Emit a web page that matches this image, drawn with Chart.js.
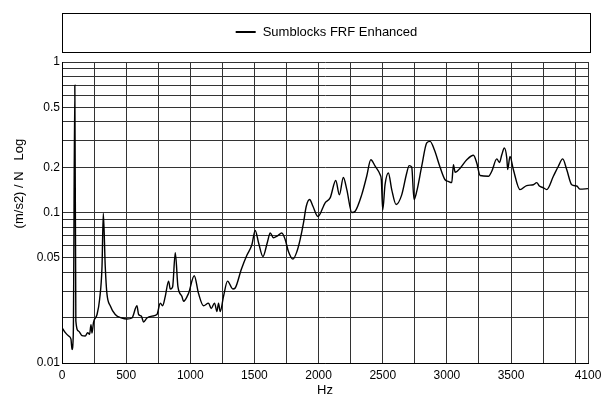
<!DOCTYPE html>
<html><head><meta charset="utf-8">
<script src="https://cdn.jsdelivr.net/npm/chart.js@4.4.1/dist/chart.umd.min.js"></script>
<style>html,body{margin:0;padding:0;background:#fff}#wrap{width:607px;height:401px}</style>
</head><body><div id="wrap"><canvas id="c" width="607" height="401"></canvas></div>
<script>
const seriesName = 'Sumblocks FRF Enhanced';
const xAxisTitle = 'Hz';
const yAxisTitle = '                (m/s2) / N   Log';

const freqHz = [0,26,52,70,78,88,100,108,129,156,181,200,215,226,234,246,273,293,312,322,337,350,376,415,467,506,545,584,597,618,636,662,701,740,766,784,805,831,844,862,883,904,935,947,986,1031,1064,1103,1142,1163,1189,1208,1220,1233,1259,1290,1332,1350,1398,1441,1480,1506,1532,1566,1602,1623,1648,1680,1713,1740,1765,1800,1831,1856,1882,1904,1930,1956,1995,2051,2090,2134,2162,2193,2220,2259,2285,2336,2375,2407,2441,2480,2489,2500,2518,2544,2570,2604,2648,2687,2706,2726,2744,2765,2804,2843,2869,2903,2947,2986,3011,3038,3051,3064,3103,3155,3207,3233,3259,3324,3350,3389,3410,3428,3448,3467,3474,3492,3518,3570,3622,3674,3700,3721,3752,3778,3830,3869,3903,3934,3973,4012,4038,4100];
const frfValues = [0.0172,0.0159,0.0151,0.0144,0.0123,0.0155,0.70,0.0190,0.0163,0.0152,0.0151,0.0159,0.0155,0.018,0.0158,0.0187,0.021,0.0264,0.044,0.099,0.044,0.029,0.024,0.021,0.0199,0.0196,0.0199,0.024,0.021,0.0205,0.0187,0.0199,0.0205,0.021,0.025,0.024,0.0277,0.035,0.031,0.032,0.054,0.032,0.0277,0.0257,0.029,0.038,0.029,0.024,0.025,0.023,0.025,0.022,0.025,0.022,0.0277,0.035,0.031,0.0315,0.042,0.052,0.061,0.076,0.063,0.051,0.064,0.073,0.068,0.070,0.073,0.066,0.055,0.049,0.055,0.066,0.085,0.110,0.122,0.110,0.094,0.116,0.125,0.163,0.131,0.171,0.142,0.100,0.102,0.131,0.174,0.224,0.203,0.178,0.165,0.104,0.153,0.183,0.142,0.113,0.131,0.183,0.205,0.200,0.122,0.138,0.203,0.29,0.297,0.26,0.200,0.165,0.161,0.158,0.208,0.185,0.197,0.224,0.240,0.213,0.176,0.174,0.188,0.227,0.215,0.242,0.268,0.230,0.193,0.236,0.193,0.142,0.151,0.153,0.158,0.150,0.146,0.142,0.174,0.203,0.227,0.193,0.153,0.150,0.143,0.144];

const xGridValues = [0,250,500,750,1000,1250,1500,1750,2000,2250,2500,2750,3000,3250,3500,3750,4000,4100];
const xLabeledValues = [0,500,1000,1500,2000,2500,3000,3500,4100];
const yGridValues = [0.01,0.02,0.03,0.04,0.05,0.06,0.07,0.08,0.09,0.1,0.2,0.3,0.4,0.5,0.6,0.7,0.8,0.9,1];
const yLabeledValues = [0.01,0.05,0.1,0.2,0.5,1];
const yLabelText = ['0.01','0.05','0.1','0.2','0.5','1'];

const FONT = '"Liberation Sans", Arial, Helvetica, sans-serif';
const points = freqHz.map((f, i) => ({x: f, y: frfValues[i]}));

const legendBox = {
  id: 'legendBox',
  afterDraw(chart) {
    const ctx = chart.ctx;
    const a = chart.chartArea;
    const left = Math.round(a.left) + 0.5, right = Math.round(a.right) + 2.5;
    const top = 13.5, bottom = 52.5;
    ctx.save();
    ctx.strokeStyle = '#000';
    ctx.lineWidth = 1;
    ctx.strokeRect(left, top, right - left, bottom - top);
    ctx.font = '13px ' + FONT;
    const tw = ctx.measureText(seriesName).width;
    const total = 20 + 7 + tw;
    const cx = (left + right) / 2;
    const sx = cx - total / 2;
    const cy = (top + bottom) / 2 - 1;
    ctx.beginPath();
    ctx.lineWidth = 2;
    ctx.moveTo(sx, cy); ctx.lineTo(sx + 20, cy);
    ctx.stroke();
    ctx.fillStyle = '#000';
    ctx.textBaseline = 'middle';
    ctx.textAlign = 'left';
    ctx.fillText(seriesName, sx + 27, cy);
    ctx.restore();
  }
};

new Chart(document.getElementById('c'), {
  type: 'line',
  data: {datasets: [{label: seriesName, data: points, borderColor: '#000', borderWidth: 1.4, pointRadius: 0, cubicInterpolationMode: 'monotone', fill: false}]},
  options: {
    responsive: false, animation: false, devicePixelRatio: 1,
    layout: {padding: {top: 62, right: 19, left: 0, bottom: 0}},
    plugins: {legend: {display: false}, tooltip: {enabled: false}},
    scales: {
      x: {
        type: 'linear', min: 0, max: 4100,
        afterBuildTicks: s => { s.ticks = xGridValues.map(v => ({value: v})); },
        afterFit: s => { s.height = 38; },
        ticks: {autoSkip: false, maxRotation: 0, minRotation: 0, padding: 5, color: '#000', font: {family: FONT, size: 12},
          callback: v => xLabeledValues.includes(v) ? String(v) : ''},
        grid: {color: '#333', lineWidth: 1, drawTicks: false},
        border: {color: '#000', width: 1},
        title: {display: true, text: xAxisTitle, color: '#000', font: {family: FONT, size: 13}, padding: {top: 0, bottom: 3}}
      },
      y: {
        type: 'logarithmic', min: 0.01, max: 1,
        afterBuildTicks: s => { s.ticks = yGridValues.map(v => ({value: v})); },
        afterFit: s => { s.width = 62; },
        ticks: {autoSkip: false, padding: 2, color: '#000', font: {family: FONT, size: 12},
          callback: v => { const i = yLabeledValues.findIndex(t => Math.abs(t - v) < 1e-9); return i >= 0 ? yLabelText[i] : ''; }},
        grid: {color: '#333', lineWidth: 1, drawTicks: false},
        border: {color: '#000', width: 1},
        title: {display: true, text: yAxisTitle, color: '#000', font: {family: FONT, size: 13}, padding: {top: 12, bottom: 0}}
      }
    }
  },
  plugins: [legendBox]
});
</script>
</body></html>
